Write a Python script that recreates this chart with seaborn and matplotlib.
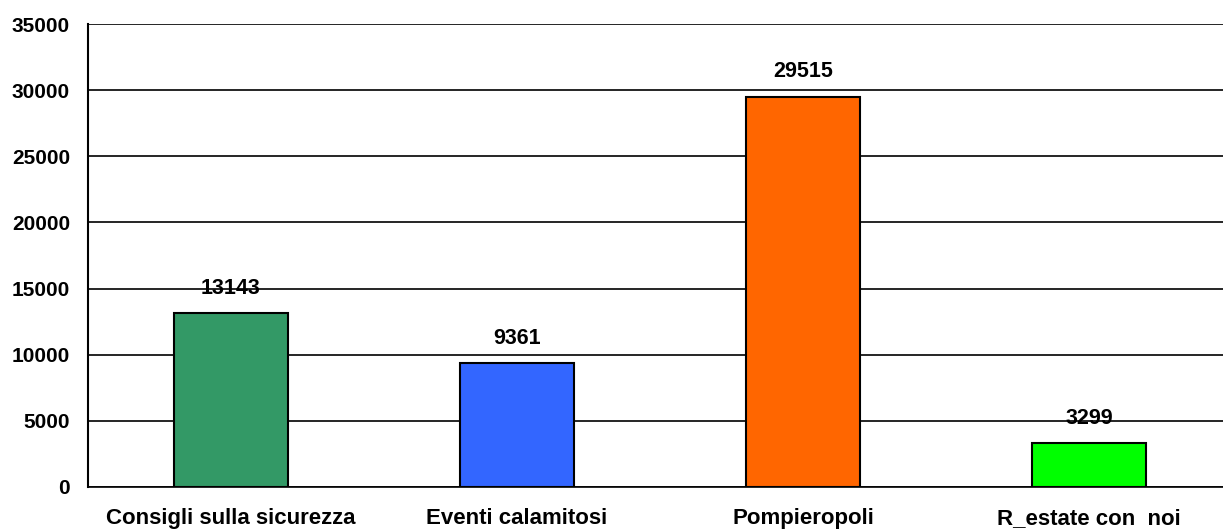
import pandas as pd
import matplotlib
matplotlib.use("Agg")
import matplotlib.pyplot as plt
import seaborn as sns

# Data
categories = ["Consigli sulla sicurezza", "Eventi calamitosi", "Pompieropoli", "R_estate con  noi"]
values = [13143, 9361, 29515, 3299]
colors = ["#339966", "#3366FF", "#FF6600", "#00FF00"]
yticks = [0, 5000, 10000, 15000, 20000, 25000, 30000, 35000]

df = pd.DataFrame({"category": categories, "value": values})

sns.set_style("white")
plt.rcParams["font.family"] = ["Liberation Sans", "DejaVu Sans"]
plt.rcParams["font.weight"] = "bold"
plt.rcParams["text.color"] = "black"

fig = plt.figure(figsize=(12.23, 5.29), dpi=100)
# the plot area runs slightly past the right edge of the image
ax = fig.add_axes([88 / 1223, 1 - 487 / 529, (1232 - 88) / 1223, (487 - 24) / 529])

sns.barplot(data=df, x="category", y="value", hue="category", palette=colors,
            saturation=1, width=0.4, edgecolor="black", linewidth=1.5,
            legend=False, ax=ax, zorder=3)

ax.set_ylim(0, 35000)
ax.set_xlim(-0.5, 3.5)
ax.set_yticks(yticks)
ax.set_yticklabels([str(t) for t in yticks], fontsize=15, fontweight="bold")
ax.yaxis.grid(True, color="black", linewidth=1.2, zorder=0)
ax.set_axisbelow(True)

# category labels at centres, tick marks at boundaries
ax.set_xticks([-0.5, 0.5, 1.5, 2.5])
ax.set_xticklabels([])
ax.set_xticks(range(len(categories)), minor=True)
ax.set_xticklabels(categories, minor=True, fontsize=16, fontweight="bold")
ax.tick_params(axis="x", which="minor", length=0, pad=15)
ax.tick_params(axis="x", which="major", length=6, width=1.2, color="black", direction="out")
ax.tick_params(axis="y", length=7, width=1.2, color="black", direction="out", pad=6)
ax.tick_params(axis="both", which="both", labelcolor="black")

for s in ["top", "right"]:
    ax.spines[s].set_visible(False)
ax.spines["left"].set_color("black")
ax.spines["left"].set_linewidth(1.5)
ax.spines["bottom"].set_color("black")
ax.spines["bottom"].set_linewidth(1.2)

for i, v in enumerate(values):
    ax.annotate(str(v), (i, v), xytext=(0, 18), textcoords="offset points",
                ha="center", va="center", fontsize=15.5, fontweight="bold",
                color="black", zorder=5)

ax.set_xlabel("")
ax.set_ylabel("")
fig.savefig("out.png", dpi=100)
